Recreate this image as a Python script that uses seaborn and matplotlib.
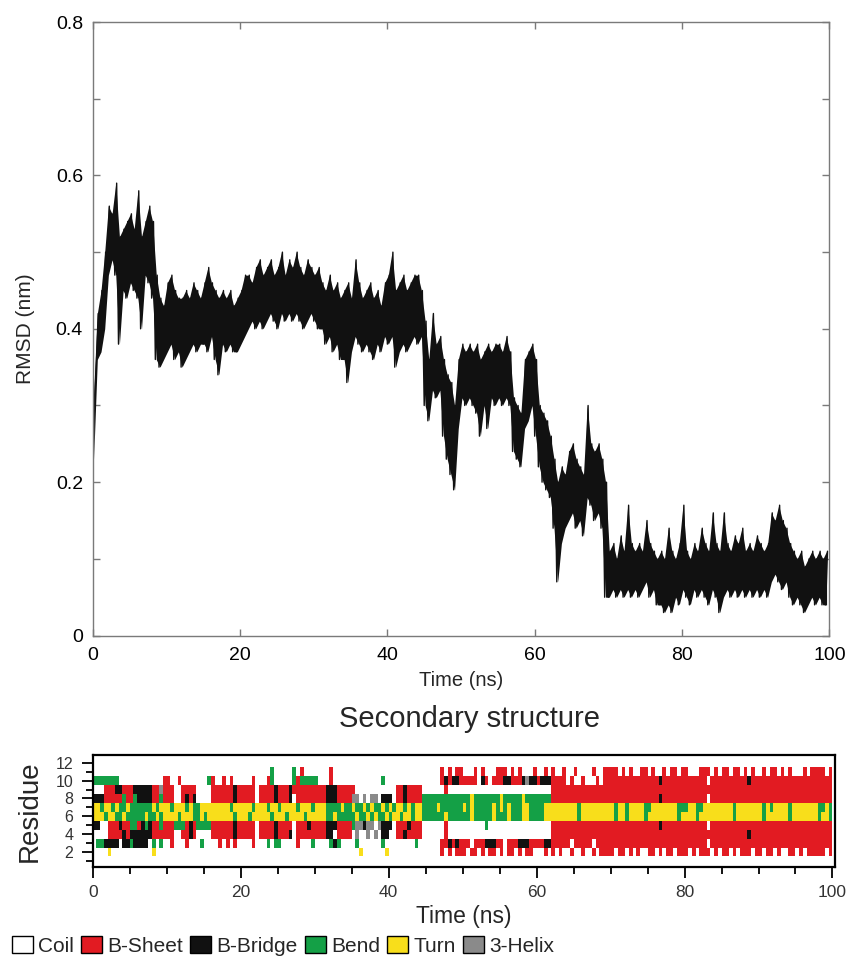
import numpy as np
import pandas as pd
import matplotlib
matplotlib.use("Agg")
import matplotlib.pyplot as plt
from matplotlib.colors import ListedColormap
from matplotlib.patches import Patch
from matplotlib.ticker import MultipleLocator, FixedLocator, FuncFormatter
import seaborn as sns

sns.set_theme(style="white")
plt.rcParams["font.family"] = ["Liberation Sans", "DejaVu Sans"]

# ---------------------------------------------------------------------------
# Backbone RMSD: lower and upper excursion of the trace in each 0.5 ns window
# ---------------------------------------------------------------------------
rmsd_lo = [
    .23, .36, .37, .40, .47, .49, .47, .38, .45, .44, .46, .45, .44, .40, .47, .46, .44, .36, .35, .36,
    .37, .38, .36, .37, .35, .36, .37, .38, .37, .38, .38, .37, .39, .36, .34, .38, .37, .38, .37, .37,
    .38, .39, .40, .41, .40, .41, .40, .41, .42, .41, .40, .42, .41, .42, .41, .42, .41, .40, .41, .42,
    .41, .40, .40, .38, .39, .37, .38, .36, .36, .33, .37, .39, .38, .37, .38, .37, .36, .38, .37, .39,
    .38, .39, .35, .37, .38, .37, .38, .39, .38, .39, .30, .28, .32, .31, .32, .26, .23, .21, .19, .27,
    .31, .30, .31, .30, .29, .26, .30, .27, .31, .30, .31, .30, .31, .30, .24, .23, .22, .27, .28, .30,
    .26, .22, .20, .19, .18, .14, .07, .12, .14, .15, .16, .14, .15, .13, .18, .17, .15, .16, .14, .05,
    .05, .06, .05, .06, .05, .06, .05, .06, .05, .06, .07, .05, .06, .04, .04, .03, .04, .03, .05, .04,
    .06, .05, .04, .06, .05, .06, .05, .04, .06, .05, .03, .05, .06, .05, .06, .05, .06, .05, .06, .05,
    .06, .05, .06, .05, .07, .08, .07, .06, .07, .05, .04, .05, .04, .03, .04, .05, .04, .05, .04, .04,
]
rmsd_hi = [
    .31, .42, .45, .50, .56, .55, .59, .52, .53, .54, .55, .53, .58, .52, .54, .56, .54, .47, .44, .43,
    .46, .47, .45, .44, .44, .45, .44, .46, .45, .44, .46, .48, .46, .45, .44, .45, .44, .45, .43, .44,
    .45, .47, .47, .46, .48, .49, .47, .48, .49, .47, .48, .50, .47, .49, .48, .50, .48, .47, .49, .48,
    .47, .48, .46, .45, .47, .45, .46, .44, .45, .46, .44, .49, .46, .44, .45, .46, .44, .45, .43, .46,
    .47, .50, .45, .46, .47, .45, .46, .47, .47, .45, .41, .36, .42, .38, .39, .36, .34, .33, .30, .36,
    .38, .37, .38, .37, .38, .36, .37, .38, .37, .38, .38, .37, .39, .37, .31, .30, .29, .36, .37, .38,
    .36, .30, .29, .28, .26, .23, .20, .22, .21, .24, .25, .23, .22, .21, .30, .25, .24, .25, .23, .20,
    .11, .12, .10, .13, .11, .17, .12, .11, .12, .11, .15, .12, .11, .10, .11, .10, .14, .11, .10, .12,
    .17, .11, .10, .12, .11, .14, .12, .11, .16, .12, .11, .16, .12, .11, .13, .12, .14, .11, .12, .11,
    .13, .12, .11, .12, .16, .15, .17, .15, .14, .12, .11, .10, .11, .09, .10, .11, .10, .11, .10, .11,
]
rmsd_ticks = [0, 0.2, 0.4, 0.6, 0.8]
time_ticks = [0, 20, 40, 60, 80, 100]

# ---------------------------------------------------------------------------
# DSSP secondary structure per residue, one character per 0.5 ns
# . coil  E B-sheet  B B-bridge  S bend  T turn  G 3-helix
# ---------------------------------------------------------------------------
residues = [12, 11, 10, 9, 8, 7, 6, 5, 4, 3, 2, 1]

ss_res12 = ["...................."] * 10
ss_res11 = ["....................", "....................", "........S.....S.E...",
            "....E...............", "..............E.E.EE", "...E.E...EEE.E.E...E",
            "..E.E..E..E....E..EE", "EE.E.E..EE.E..E.EE.E", "E...EEE.E.EE.EE.E.E.",
            ".E.EE.E.E...E.EEEE.E"]
ss_res10 = ["SSSSSSS............E", "E..E.......SE..E.E..", "...E...ES.....SESSSS",
            "S...E.............S.", "..............EBEBBE", "EEEE.BE.EEEBBEEEBGBB",
            "EBBBEEEE.E..E...E.EE", "EEEEEEEEEEEEEBEEEEEE", "EEEEEE.EEEEEEEEEEBEE",
            "EEEEEEEEEEEEEEEEEEEE"]
ss_res09 = ["...EEEBBEEEBBBBBEEGE", "EE..EEEE....EEEEEEBE", "EEEE.EEEEBEEEBEEEEEE",
            "EEEBBBEEEEE.........", "..EEBEEEE......E....", "....................",
            "....EEEEEEEEEEEEEEEE", "EEEEEEEEEEEEEEEEEEEE", "EEEEEEEEEEEEEEEEEEEE",
            "EEEEEEEEEEEEEEEEEEEE"]
ss_res08 = ["BBBEEEEESEESBBBBEESE", "EE..EBEB....EEEEEEBE", "EEEE.EEEEBEEEB.EEEEE",
            "EEEBBBEEEEGG.G.GG.BB", "B.EEBEEEESSSSSSSSSSS", "SSTSSSSSSSTSSSSSTSSS",
            "SSSSEEEEEEEEEEEEEEEE", "EEEEEEEEEEEEEBEEEEEE", "EEEEEE.EEEEEEEEEEEEE",
            "EEEEEEEEEEEEEEEEEEEE"]
ss_res07 = ["TTSTTSTSSTSSSSSSTSTT", "TSTTTSTSSTTTTTTTTSTT", "TTTSTTTSTTSTTTTSTTTS",
            "TTTSSSSTSSTSSTSTSSTS", "TSTTSTSTTSSSSTSSSSSS", "TSTSSSSSTSTSTSSSTTSS",
            "SSTTTTTTTTTSTTTTTTTT", "TSTTSTTTTSSTTTTTTTSS", "STTSSTTTTTTTTSTTTTTT",
            "TSTSTTTTSTTTTTTTSSTS"]
ss_res06 = ["TTTSTTSSTSSSSSTSSTST", "TTTSTTTSSTSTTTTTTTST", "TTSTTTTTSTTTSTTTTSTT",
            "TTTSSTSSSSSTSSTSTSST", "STTSTTSTTSSSSSSTSSSS", "SSTSSSSSTSSSTSSSTTSS",
            "SSTTTTTTTTTSTTTTTTTT", "TSTTSTTTTSTTTTTTTTST", "TTTSTTTTTTTTTSTTTTTT",
            "TSTTTTTTSTTTTTTTSTTS"]
ss_res05 = ["BB..EEEBEESSEBSBEESE", "EESSSEBESSSSEEEEEEBE", "EEEE.EEEEBEEEE.EEEBE",
            "EEEBBBEEEESGGBGG.GBB", "B.EEEBEEE......E....", "......S.............",
            "....EEEEEEEEEEEEEEEE", "EEEEEEEEEEEEEBEEEEEE", "EEEEEE.EEEEEEEEEEEEE",
            "EEEEEEEEEEEEEEEEEEEE"]
ss_res04 = ["....EEEEBEBBBBBBEEEE", "EE..EEBE....EEEEEEBE", "EEEE.EEEEBEEEB.EEEEE",
            "EEEBB.EEEE.G..G.G.BB", "..EEBEEEE......E....", "....................",
            "....EEEEEEEEEEEEEEEE", "EEEEEEEEEEEEEEEEEEEE", "EEEEEEEEEEEEEEEEEBEE",
            "EEEEEEEEEEEEEEEEEEEE"]
ss_res03 = [".SSBBBB.BBSBBBB.S.S.", ".E...E...S....E.E.E.", "...E...S.SS....E...S",
            "....SBS....S......S.", ".......S......EEBEBE", "EE.EEEBBBEE.EEEBBBEE",
            "EEBBEEEEE.EEEEE.EEEE", "EEEEEEEEEEEEEEEEEEEE", "EEEEEE.EEEEEEEEEEEEE",
            "EEEEEEEEEEEEEEEEEEEE"]
ss_res02 = ["....T...........T...", "....................", "....................",
            "............T......T", "..............E.E.EE", "E.EE.E.EE.E.EE.E.EE.",
            "..E.E.E..E..E..E.EEE", "E.EE.E.E..EE.E.EE.EE", "E.E.EEE.E.EE.E.EEE.E",
            "E.EE.E..EE.E.EEEEE.E"]
ss_res01 = ["...................."] * 10

ss_labels = ["Coil", "B-Sheet", "B-Bridge", "Bend", "Turn", "3-Helix"]
ss_chars = [".", "E", "B", "S", "T", "G"]
ss_colors = ["#ffffff", "#e21b22", "#111111", "#14a046", "#f8de1b", "#8a8a8a"]

# ---------------------------------------------------------------------------
fig = plt.figure(figsize=(8.46, 9.56), dpi=100)

# ---- RMSD panel ----
ax1 = fig.add_axes([0.1096, 0.3352, 0.8707, 0.6417])
window_start = np.arange(len(rmsd_lo)) * 0.5
time = np.column_stack([window_start, window_start + 0.25]).ravel()
rmsd = np.column_stack([rmsd_lo, rmsd_hi]).ravel()
# solid core of the fluctuating trace, then the trace itself on top
ax1.fill_between(window_start + 0.125, rmsd_lo, rmsd_hi, color="#111111", lw=0)
sns.lineplot(x=time, y=rmsd, ax=ax1, color="#111111", lw=1.0,
             estimator=None, sort=False)

ax1.set_xlim(0, 100)
ax1.set_ylim(0, 0.8)
ax1.xaxis.set_major_locator(FixedLocator(time_ticks))
ax1.yaxis.set_major_locator(FixedLocator(rmsd_ticks))
ax1.yaxis.set_minor_locator(MultipleLocator(0.1))
ax1.yaxis.set_major_formatter(FuncFormatter(lambda v, _: "0" if v == 0 else f"{v:.1f}"))
ax1.tick_params(which="both", direction="in", bottom=True, left=True, top=True, right=True,
                length=5, width=1, color="#7a7a7a", labelsize=14, labelcolor="black")
ax1.tick_params(axis="x", pad=8)
ax1.tick_params(axis="y", pad=7)
for s in ax1.spines.values():
    s.set_visible(True)
    s.set_color("#7a7a7a")
    s.set_linewidth(1.0)
ax1.set_xlabel("Time (ns)", fontsize=14.5, labelpad=5)
ax1.set_ylabel("RMSD (nm)", fontsize=15, labelpad=15)

# ---- Secondary structure panel ----
rows = [ss_res12, ss_res11, ss_res10, ss_res09, ss_res08, ss_res07,
        ss_res06, ss_res05, ss_res04, ss_res03, ss_res02, ss_res01]
for r in rows:
    for chunk in r:
        assert len(chunk) == 20, chunk
code_of = {c: i for i, c in enumerate(ss_chars)}
grid = pd.DataFrame([[code_of[c] for c in "".join(r)] for r in rows], index=residues)

ax2 = fig.add_axes([0.1096, 0.0936, 0.8774, 0.1166])
sns.heatmap(grid, ax=ax2, cmap=ListedColormap(ss_colors), vmin=-0.5, vmax=5.5,
            cbar=False, xticklabels=False, yticklabels=False)

bins_per_ns = 2
ax2.set_xlim(0, 100.34 * bins_per_ns)
ax2.set_ylim(12.5 - 0.376, 12.5 - 12.86)
ax2.set_xticks([t * bins_per_ns for t in time_ticks])
ax2.set_xticklabels([str(t) for t in time_ticks])
ax2.xaxis.set_minor_locator(FixedLocator(np.arange(0, 101, 5) * bins_per_ns))
major_res = [2, 4, 6, 8, 10, 12]
ax2.set_yticks([12.5 - r for r in major_res])
ax2.set_yticklabels([str(r) for r in major_res], rotation=0)
ax2.yaxis.set_minor_locator(FixedLocator([12.5 - r for r in range(1, 13, 2)]))
ax2.tick_params(which="both", direction="out", bottom=True, left=True, top=False, right=False,
                width=1.3, color="black", labelcolor="#333333")
ax2.tick_params(which="major", length=8)
ax2.tick_params(which="minor", length=5)
ax2.tick_params(axis="x", labelsize=12.5, pad=5)
ax2.tick_params(axis="y", labelsize=11.5, pad=6)
for s in ax2.spines.values():
    s.set_visible(True)
    s.set_color("black")
    s.set_linewidth(1.6)
ax2.set_xlabel("Time (ns)", fontsize=16.5, labelpad=4)
ax2.set_ylabel("Residue", fontsize=20, labelpad=9)

fig.text(0.5544, 0.248, "Secondary structure", ha="center", va="center", fontsize=21)

handles = [Patch(facecolor=c, edgecolor="black", linewidth=1.0, label=l)
           for c, l in zip(ss_colors, ss_labels)]
fig.legend(handles=handles, loc="center left", bbox_to_anchor=(0.014, 0.0105), ncol=6,
           frameon=False, fontsize=15, handlelength=1.0, handleheight=0.9,
           handletextpad=0.25, columnspacing=0.35, borderpad=0, borderaxespad=0)

fig.savefig("out.png", dpi=100)
